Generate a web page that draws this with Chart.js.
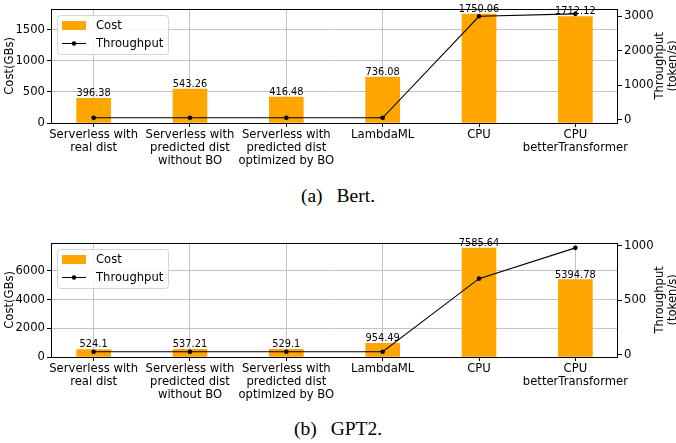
<!DOCTYPE html>
<html>
<head>
<meta charset="utf-8">
<script src="https://cdn.jsdelivr.net/npm/chart.js@4.4.0/dist/chart.umd.min.js"></script>
<style>
  body { margin: 0; background: #fff; width: 676px; height: 443px; position: relative; overflow: hidden; }
  canvas { position: absolute; left: 0; }
  #bert { top: 0; }
  #gpt2 { top: 234px; }
  .caption { position: absolute; left: 0; width: 676px; text-align: center; font-family: 'Liberation Serif', 'Times New Roman', serif; font-size: 19.5px; color: #000; line-height: 20px; }
  .caption .tag { margin-right: 14px; }
</style>
</head>
<body>
<canvas id="bert" width="676" height="170"></canvas>
<div class="caption" style="top:186px"><span class="tag">(a)</span>Bert.</div>
<canvas id="gpt2" width="676" height="170"></canvas>
<div class="caption" style="top:419px"><span class="tag">(b)</span>GPT2.</div>
<script>
const categories = [
  ['Serverless with', 'real dist'],
  ['Serverless with', 'predicted dist', 'without BO'],
  ['Serverless with', 'predicted dist', 'optimized by BO'],
  'LambdaML',
  'CPU',
  ['CPU', 'betterTransformer']
];

const bertCost = [396.38, 543.26, 416.48, 736.08, 1750.06, 1712.12];
const bertThroughput = [60, 60, 60, 60, 3000, 3070];
const bertCostTicks = [0, 500, 1000, 1500];
const bertThroughputTicks = [0, 1000, 2000, 3000];

const gpt2Cost = [524.1, 537.21, 529.1, 954.49, 7585.64, 5394.78];
const gpt2Throughput = [27, 27, 27, 27, 697, 979];
const gpt2CostTicks = [0, 2000, 4000, 6000];
const gpt2ThroughputTicks = [0, 500, 1000];

const FONT = 'DejaVu Sans';
const GRID = '#c4c4c4';
Chart.defaults.font.family = FONT;
Chart.defaults.color = '#000';

// bar value labels, frame, legend and axis titles drawn by hand
const decorations = {
  id: 'decorations',
  afterDraw(chart) {
    const ctx = chart.ctx;
    const a = chart.chartArea;
    ctx.save();

    const bars = chart.getDatasetMeta(1);
    const values = chart.data.datasets[1].data;
    ctx.font = '9.8px ' + FONT;
    ctx.fillStyle = '#000';
    ctx.textAlign = 'center';
    ctx.textBaseline = 'alphabetic';
    bars.data.forEach((bar, i) => {
      ctx.fillText(String(values[i].y), bar.x, bar.y - 2);
    });

    ctx.strokeStyle = '#000';
    ctx.lineWidth = 1;
    ctx.strokeRect(Math.round(a.left) + 0.5, Math.round(a.top) + 0.5,
      Math.round(a.right - a.left) - 1, Math.round(a.bottom - a.top));

    // legend
    const lx = Math.round(a.left) + 6, ly = Math.round(a.top) + 6;
    ctx.beginPath();
    ctx.roundRect(lx + 0.5, ly + 0.5, 111, 39, 3);
    ctx.fillStyle = 'rgba(255,255,255,0.85)';
    ctx.fill();
    ctx.strokeStyle = '#d4d4d4';
    ctx.stroke();
    ctx.fillStyle = '#FFA500';
    ctx.fillRect(lx + 5, ly + 6, 24, 9);
    ctx.beginPath();
    ctx.moveTo(lx + 5, ly + 28.5);
    ctx.lineTo(lx + 29, ly + 28.5);
    ctx.strokeStyle = '#000';
    ctx.stroke();
    ctx.beginPath();
    ctx.arc(lx + 17, ly + 28.5, 2.2, 0, Math.PI * 2);
    ctx.fillStyle = '#000';
    ctx.fill();
    ctx.font = '11.6px ' + FONT;
    ctx.textAlign = 'left';
    ctx.textBaseline = 'middle';
    ctx.fillText('Cost', lx + 39, ly + 11);
    ctx.fillText('Throughput', lx + 39, ly + 29);

    // axis titles
    const midY = (a.top + a.bottom) / 2;
    ctx.textAlign = 'center';
    ctx.save();
    ctx.translate(9.5, midY);
    ctx.rotate(-Math.PI / 2);
    ctx.fillText('Cost(GBs)', 0, 0);
    ctx.restore();
    ctx.save();
    ctx.translate(660, midY);
    ctx.rotate(-Math.PI / 2);
    ctx.fillText('Throughput', 0, 0);
    ctx.fillText('(token/s)', 0, 13);
    ctx.restore();

    ctx.restore();
  }
};

function makeChart(id, cost, throughput, costTicks, throughputTicks) {
  const costMax = Math.max(...cost) * 1.05;
  const tMin = Math.min(...throughput), tMax = Math.max(...throughput);
  const tPad = (tMax - tMin) * 0.05;
  const tickFont = { family: FONT, size: 11.6, lineHeight: 1.15 };

  new Chart(document.getElementById(id), {
    data: {
      datasets: [
        {
          type: 'line',
          label: 'Throughput',
          yAxisID: 'y1',
          data: throughput.map((v, i) => ({ x: i, y: v })),
          borderColor: '#000',
          borderWidth: 1.1,
          pointRadius: 2.3,
          pointBorderWidth: 0,
          pointBackgroundColor: '#000',
          order: 0
        },
        {
          type: 'bar',
          label: 'Cost',
          yAxisID: 'y',
          data: cost.map((v, i) => ({ x: i, y: v })),
          backgroundColor: '#FFA500',
          barThickness: 34,
          order: 1
        }
      ]
    },
    options: {
      responsive: false,
      animation: false,
      layout: { padding: { top: 7, left: 0, right: 0, bottom: 0 } },
      plugins: { legend: { display: false }, tooltip: { enabled: false } },
      scales: {
        x: {
          type: 'linear',
          min: -0.4425,
          max: 5.4425,
          offset: false,
          z: 1,
          afterBuildTicks: s => { s.ticks = categories.map((c, i) => ({ value: i })); },
          afterFit: s => { s.height = 47; },
          ticks: {
            callback: v => categories[v],
            font: tickFont,
            padding: 1,
            maxRotation: 0,
            autoSkip: false
          },
          grid: { offset: false, color: GRID, lineWidth: 1, tickColor: '#000', tickLength: 4 },
          border: { display: false }
        },
        y: {
          position: 'left',
          min: 0,
          max: costMax,
          afterBuildTicks: s => { s.ticks = costTicks.map(v => ({ value: v })); },
          afterFit: s => { s.width = 51; },
          ticks: { font: tickFont, padding: 2, callback: v => String(v) },
          grid: { color: GRID, lineWidth: 1, tickColor: '#000', tickLength: 4 },
          border: { display: false }
        },
        y1: {
          position: 'right',
          min: tMin - tPad,
          max: tMax + tPad,
          afterBuildTicks: s => { s.ticks = throughputTicks.map(v => ({ value: v })); },
          afterFit: s => { s.width = 58; },
          ticks: { font: tickFont, padding: 2, callback: v => String(v) },
          grid: { drawOnChartArea: false, tickColor: '#000', tickLength: 4 },
          border: { display: false }
        }
      }
    },
    plugins: [decorations]
  });
}

makeChart('bert', bertCost, bertThroughput, bertCostTicks, bertThroughputTicks);
makeChart('gpt2', gpt2Cost, gpt2Throughput, gpt2CostTicks, gpt2ThroughputTicks);
</script>
</body>
</html>
